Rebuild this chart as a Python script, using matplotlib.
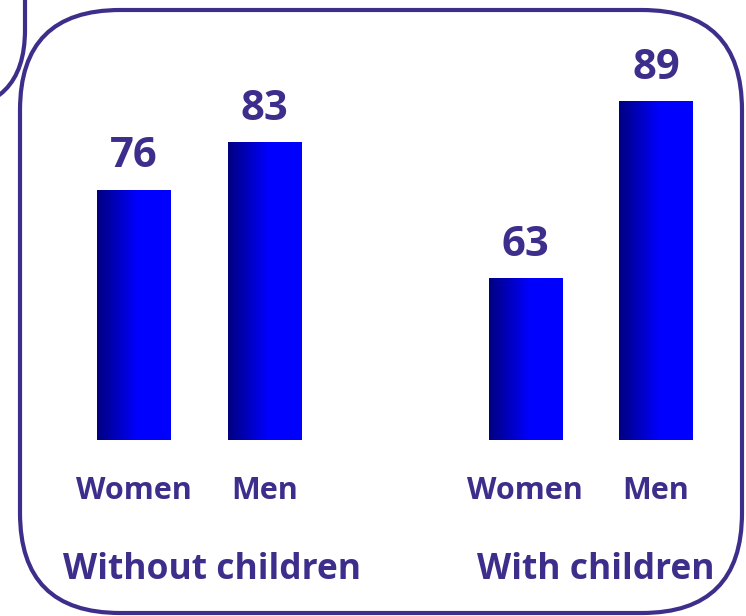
import numpy as np
import matplotlib
matplotlib.use("Agg")
import matplotlib.pyplot as plt
from matplotlib.colors import LinearSegmentedColormap
from matplotlib.patches import FancyBboxPatch

# data
groups = ["Without children", "With children"]
sexes = ["Women", "Men"]
values = [76, 83, 63, 89]
positions = [0, 1, 3, 4]
group_x = [0.6, 3.54]

purple = "#3D2E8C"
plt.rcParams["font.family"] = ["Open Sans", "DejaVu Sans"]

fig = plt.figure(figsize=(7.46, 6.16), dpi=100)

# frame layer in pixel space
bg = fig.add_axes([0, 0, 1, 1])
bg.set_xlim(0, 746)
bg.set_ylim(616, 0)
bg.axis("off")
bg.add_patch(FancyBboxPatch((20, 10), 722, 603, boxstyle="round,pad=0,rounding_size=100",
                            fill=False, ec=purple, lw=3))
bg.add_patch(FancyBboxPatch((-300, -300), 325, 410, boxstyle="round,pad=0,rounding_size=80",
                            fill=False, ec=purple, lw=3))

ax = fig.add_axes([0, 0, 1, 1])
ax.axis("off")
ax.patch.set_alpha(0)

base = 39.4
width = 0.56
cmap = LinearSegmentedColormap.from_list("g", [(0, "#000080"), (0.55, "#0000FF"), (1, "#0000FF")])
grad = np.linspace(0, 1, 256).reshape(1, -1)

for x, v in zip(positions, values):
    ax.imshow(grad, cmap=cmap, aspect="auto",
              extent=(x - width / 2, x + width / 2, base, v), zorder=2)
    ax.annotate(str(v), (x, v), xytext=(0, 9), textcoords="offset points",
                ha="center", va="bottom", fontsize=30, fontweight="bold", color=purple)

for x, s in zip(positions, sexes * 2):
    ax.annotate(s, (x, base), xytext=(0, -37), textcoords="offset points",
                ha="center", va="center", fontsize=22, fontweight="bold", color=purple)

for x, g in zip(group_x, groups):
    ax.annotate(g, (x, base), xytext=(0, -94), textcoords="offset points",
                ha="center", va="center", fontsize=25.5, fontweight="bold", color=purple)

ax.set_xlim(-1.023, 4.69)
ax.set_ylim(13.6, 103.8)

fig.savefig("out.png", dpi=100)
